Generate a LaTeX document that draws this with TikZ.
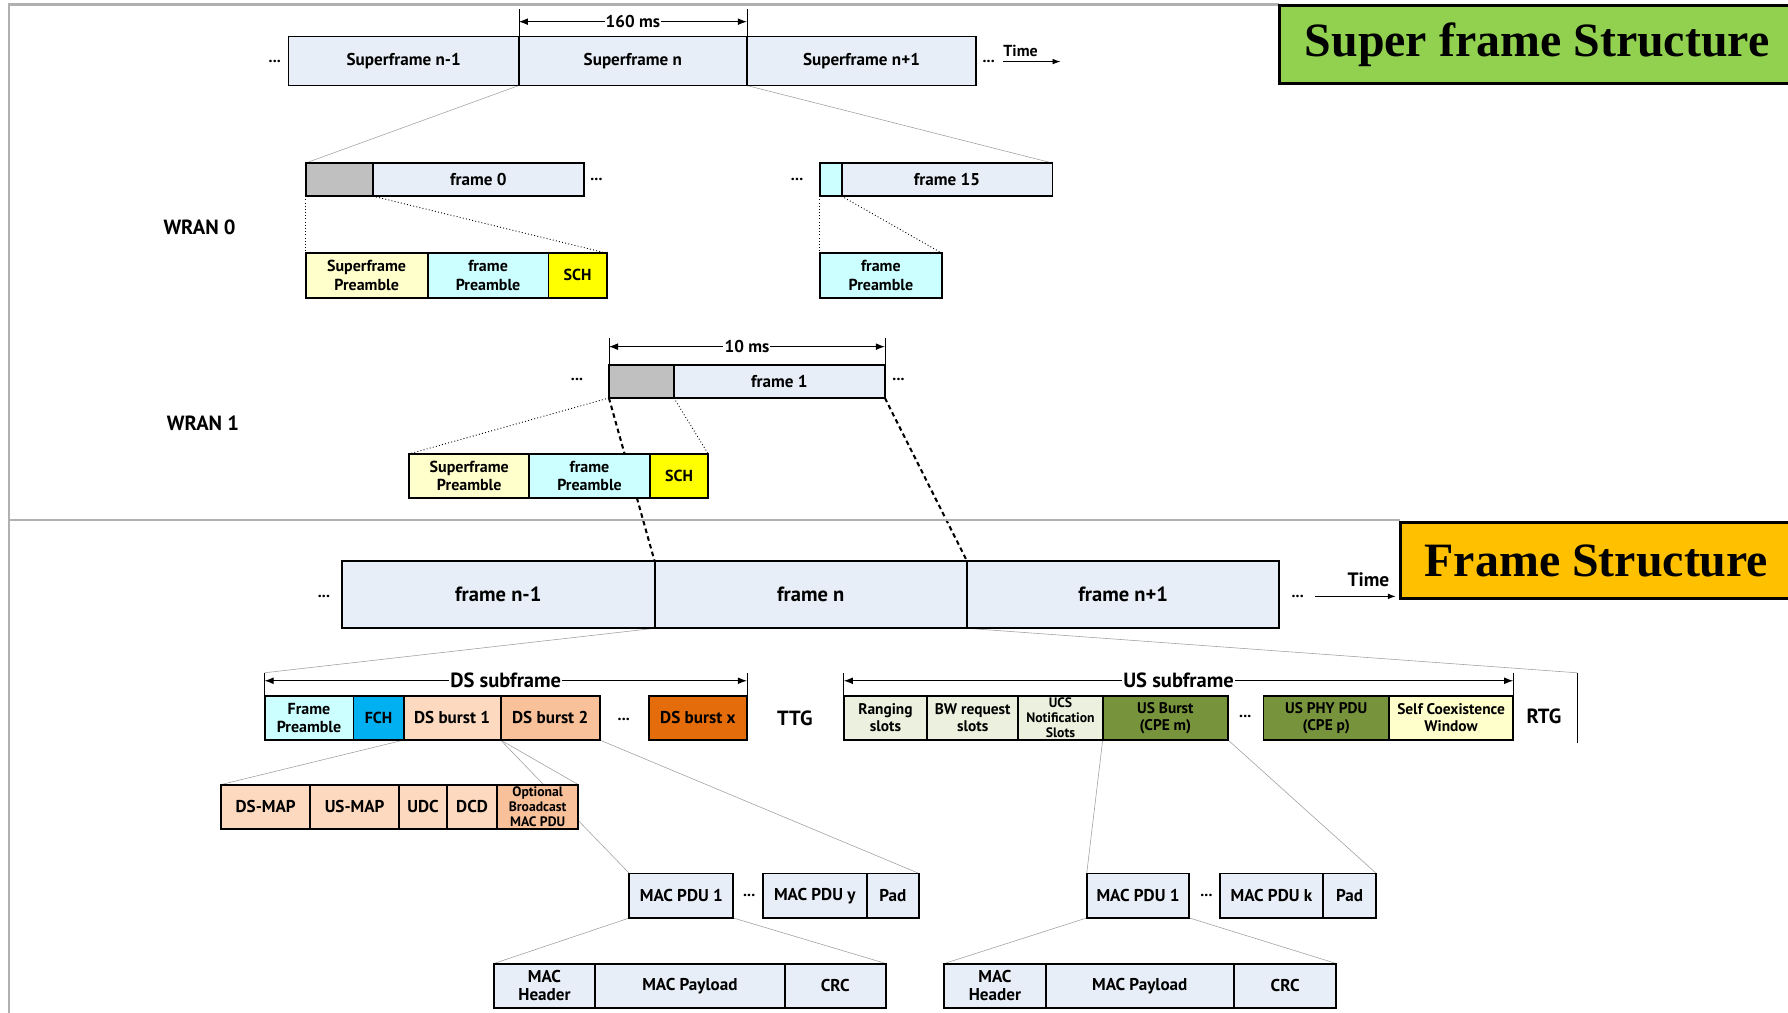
\documentclass[tikz,border=0pt]{standalone}
\usepackage{fontspec}
\setmainfont{PT Sans}
\newfontfamily\titlefont{Liberation Serif}
\usetikzlibrary{positioning,arrows.meta,backgrounds}
\definecolor{boxblue}{HTML}{E8EEF7}
\definecolor{cellgray}{HTML}{C0C0C0}
\definecolor{paleyellow}{HTML}{FFFFCC}
\definecolor{palecyan}{HTML}{CCFFFF}
\definecolor{schyellow}{HTML}{FFFF00}
\definecolor{fchblue}{HTML}{00B0F0}
\definecolor{burstone}{HTML}{FCD9BF}
\definecolor{bursttwo}{HTML}{F9C19A}
\definecolor{burstx}{HTML}{E46C0A}
\definecolor{slotgreen}{HTML}{EBF1DE}
\definecolor{olive}{HTML}{77933C}
\definecolor{titlegreen}{HTML}{92D050}
\definecolor{titleorange}{HTML}{FFC000}
\definecolor{framegray}{HTML}{B0B0B0}
\tikzset{
  cell/.style={draw, fill=boxblue, line width=1.7pt, outer sep=0pt, inner sep=0pt,
    minimum height=39pt, align=center, font=\bfseries\fontsize{14}{16}\selectfont},
  small/.style={font=\bfseries\fontsize{13.5}{15}\selectfont},
  tiny/.style={font=\bfseries\fontsize{12}{13}\selectfont},
  mid/.style={font=\bfseries\fontsize{15}{16}\selectfont},
  big/.style={font=\bfseries\fontsize{18}{18}\selectfont},
  zoomline/.style={gray!75, line width=0.5pt},
  dotline/.style={dotted, line width=0.8pt},
  bigdash/.style={line width=1.8pt, dash pattern=on 4pt off 3pt},
  dim/.style={{Latex[length=8pt,width=6pt]}-{Latex[length=8pt,width=6pt]}, line width=0.8pt},
  dimlbl/.style={fill=white, inner sep=1pt},
  dots/.style={font=\bfseries\fontsize{14}{14}\selectfont, inner sep=1pt},
  title/.style={draw, line width=2.5pt, outer sep=0pt, anchor=north west,
    font=\titlefont\bfseries\fontsize{42}{42}\selectfont},
}
\begin{document}
\begin{tikzpicture}[x=1pt,y=-1pt]
\useasboundingbox (0,0) rectangle (1568,888);
% outer frame
\draw[framegray, line width=2pt] (8,888) -- (8,4) -- (1122,4);
\draw[framegray, line width=2pt] (8,456) -- (1228,456);

% titles
\node[title, fill=titlegreen, minimum width=452pt, minimum height=68pt] (sftitle) at (1122,5) {Super frame Structure};
\node[title, fill=titleorange, minimum width=344pt, minimum height=67pt] (ftitle) at (1228,458) {Frame Structure};

% superframes
\node[cell, mid, minimum width=202pt, minimum height=43pt, anchor=north west] (sfa) at (253,32) {Superframe n-1};
\node[cell, mid, minimum width=200pt, minimum height=43pt, right=0pt of sfa] (sfb) {Superframe n};
\node[cell, mid, minimum width=201pt, minimum height=43pt, right=0pt of sfb] (sfc) {Superframe n+1};
\node[dots] (sfdl) at (241,54) {...};
\node[dots] (sfdr) at (867,54) {...};
\node[font=\bfseries\fontsize{14}{14}\selectfont] (sftime) at (895,45) {Time};
\coordinate (sftimea) at (880,54);
\coordinate (sftimeb) at (930,54);
\draw[-{Latex[length=7pt,width=5pt]}, line width=0.8pt] (sftimea) -- (sftimeb);
\draw[line width=0.6pt] (sfb.north west) -- ([yshift=24pt]sfb.north west);
\draw[line width=0.6pt] (sfb.north east) -- ([yshift=24pt]sfb.north east);
\draw[dim] ([yshift=13pt]sfb.north west) -- node[dimlbl, mid]{160 ms} ([yshift=13pt]sfb.north east);

% WRAN 0
\node[big] (wran0) at (175,199) {WRAN 0};
\node[cell, fill=cellgray, minimum width=59pt, minimum height=29pt, anchor=north west] (g0) at (268,143) {};
\node[cell, mid, minimum width=185pt, minimum height=29pt, right=0pt of g0] (f0) {frame 0};
\node[dots] (f0d) at (523,157) {...};
\node[dots] (f15d) at (699,157) {...};
\node[cell, fill=palecyan, minimum width=19pt, minimum height=29pt, anchor=north west] (c15) at (719,143) {};
\node[cell, mid, minimum width=185pt, minimum height=29pt, right=0pt of c15] (f15) {frame 15};
\node[cell, fill=paleyellow, minimum width=107pt, anchor=north west] (sp0) at (268,222) {Superframe\\Preamble};
\node[cell, fill=palecyan, minimum width=106pt, right=0pt of sp0] (fp0) {frame\\Preamble};
\node[cell, fill=schyellow, minimum width=51pt, right=0pt of fp0] (sch0) {SCH};
\node[cell, fill=palecyan, minimum width=107pt, anchor=north west] (fp15) at (719,222) {frame\\Preamble};

% WRAN 1
\node[big] (wran1) at (178,371) {WRAN 1};
\node[cell, fill=cellgray, minimum width=57pt, minimum height=29pt, anchor=north west] (g1) at (534,320) {};
\node[cell, mid, minimum width=185pt, minimum height=29pt, right=0pt of g1] (f1) {frame 1};
\node[dots] (f1dl) at (506,333) {...};
\node[dots] (f1dr) at (788,333) {...};
\draw[line width=0.6pt] (g1.north west) -- ([yshift=24pt]g1.north west);
\draw[line width=0.6pt] (f1.north east) -- ([yshift=24pt]f1.north east);
\draw[dim] ([yshift=16pt]g1.north west) -- node[dimlbl, mid]{10 ms} ([yshift=16pt]f1.north east);
\node[cell, fill=paleyellow, minimum width=105pt, anchor=north west] (sp1) at (359,398) {Superframe\\Preamble};
\node[cell, fill=palecyan, minimum width=106pt, right=0pt of sp1] (fp1) {frame\\Preamble};
\node[cell, fill=schyellow, minimum width=51pt, right=0pt of fp1] (sch1) {SCH};

% frames
\node[cell, big, minimum width=274pt, minimum height=59pt, anchor=north west] (fa) at (300,492) {frame n-1};
\node[cell, big, minimum width=274pt, minimum height=59pt, right=0pt of fa] (fb) {frame n};
\node[cell, big, minimum width=274pt, minimum height=59pt, right=0pt of fb] (fc) {frame n+1};
\node[dots] (fdl) at (284,523) {...};
\node[dots] (fdr) at (1138,523) {...};
\node[font=\bfseries\fontsize{17}{17}\selectfont] (ftime) at (1200,508) {Time};
\coordinate (ftimea) at (1153,523);
\coordinate (ftimeb) at (1224,523);
\draw[-{Latex[length=7pt,width=5pt]}, line width=0.8pt] (ftimea) -- (ftimeb);

% DS subframe
\node[cell, fill=palecyan, minimum width=78pt, anchor=north west] (dpre) at (232,610) {Frame\\Preamble};
\node[cell, fill=fchblue, minimum width=44pt, right=0pt of dpre] (fch) {FCH};
\node[cell, mid, fill=burstone, minimum width=85pt, right=0pt of fch] (db1) {DS burst 1};
\node[cell, mid, fill=bursttwo, minimum width=87pt, right=0pt of db1] (db2) {DS burst 2};
\node[dots] (dsd) at (547,631) {...};
\node[cell, mid, fill=burstx, minimum width=86pt, anchor=north west] (dbx) at (569,610) {DS burst x};
\node[big] (ttg) at (697,630) {TTG};
\coordinate (dstick) at ([yshift=20pt]dpre.north west);
\draw[line width=0.6pt] (dpre.north west) -- (dstick);
\draw[line width=0.6pt] (dbx.north east) -- ([yshift=20pt]dbx.north east);
\draw[dim] ([yshift=13pt]dpre.north west) -- node[dimlbl, big]{DS subframe} ([yshift=13pt]dbx.north east);

% US subframe
\node[cell, small, fill=slotgreen, minimum width=73pt, anchor=north west] (rng) at (740,610) {Ranging\\slots};
\node[cell, small, fill=slotgreen, minimum width=80pt, right=0pt of rng] (bwr) {BW request\\slots};
\node[cell, tiny, fill=slotgreen, minimum width=74pt, right=0pt of bwr] (ucs) {UCS\\Notification\\Slots};
\node[cell, small, fill=olive, minimum width=110pt, right=0pt of ucs] (usb) {US Burst\\(CPE m)};
\node[dots] (usd) at (1092,628) {...};
\node[cell, small, fill=olive, minimum width=110pt, anchor=north west] (phy) at (1108,610) {US PHY PDU\\(CPE p)};
\node[cell, small, fill=paleyellow, minimum width=109pt, right=0pt of phy] (scw) {Self Coexistence\\Window};
\node[big] (rtg) at (1354,628) {RTG};
\coordinate (rtgtop) at (1383,590);
\coordinate (rtgbot) at (1383,652);
\draw[line width=0.6pt] (rtgtop) -- (rtgbot);
\draw[line width=0.6pt] (rng.north west) -- ([yshift=20pt]rng.north west);
\draw[line width=0.6pt] (scw.north east) -- ([yshift=20pt]scw.north east);
\draw[dim] ([yshift=13pt]rng.north west) -- node[dimlbl, big]{US subframe} ([yshift=13pt]scw.north east);

% DS burst 1 content
\node[cell, mid, fill=burstone, minimum width=78pt, anchor=north west] (dsmap) at (194,688) {DS-MAP};
\node[cell, mid, fill=burstone, minimum width=78pt, right=0pt of dsmap] (usmap) {US-MAP};
\node[cell, mid, fill=burstone, minimum width=42pt, right=0pt of usmap] (udc) {UDC};
\node[cell, mid, fill=burstone, minimum width=44pt, right=0pt of udc] (dcd) {DCD};
\node[cell, tiny, fill=bursttwo, minimum width=71pt, right=0pt of dcd] (opt) {Optional\\Broadcast\\MAC PDU};

% MAC PDUs (DS)
\node[cell, mid, minimum width=91pt, anchor=north west] (mp1) at (552,766) {MAC PDU 1};
\node[dots] (mpd) at (657,785) {...};
\node[cell, mid, minimum width=91pt, anchor=north west] (mpy) at (669,766) {MAC PDU y};
\node[cell, mid, minimum width=46pt, right=0pt of mpy] (pad) {Pad};
\node[cell, mid, minimum width=89pt, anchor=north west] (mh) at (433,845) {MAC\\Header};
\node[cell, mid, minimum width=166pt, right=0pt of mh] (mpl) {MAC Payload};
\node[cell, mid, minimum width=89pt, right=0pt of mpl] (crc) {CRC};

% MAC PDUs (US)
\node[cell, mid, minimum width=90pt, anchor=north west] (mq1) at (953,766) {MAC PDU 1};
\node[dots] (mqd) at (1058,785) {...};
\node[cell, mid, minimum width=90pt, anchor=north west] (mqk) at (1070,766) {MAC PDU k};
\node[cell, mid, minimum width=47pt, right=0pt of mqk] (padk) {Pad};
\node[cell, mid, minimum width=89pt, anchor=north west] (mhu) at (828,845) {MAC\\Header};
\node[cell, mid, minimum width=165pt, right=0pt of mhu] (mplu) {MAC Payload};
\node[cell, mid, minimum width=90pt, right=0pt of mplu] (crcu) {CRC};

% zoom lines
\begin{scope}[on background layer]
\draw[zoomline] (sfb.south west) -- (g0.north west);
\draw[zoomline] (sfb.south east) -- (f15.north east);
\draw[dotline] (g0.south west) -- (sp0.north west);
\draw[dotline] (g0.south east) -- (sch0.north east);
\draw[dotline] (c15.south west) -- (fp15.north west);
\draw[dotline] (c15.south east) -- (fp15.north east);
\draw[dotline] (g1.south west) -- (sp1.north west);
\draw[dotline] (g1.south east) -- (sch1.north east);
\draw[bigdash] (g1.south west) -- (fb.north west);
\draw[bigdash] (f1.south east) -- (fb.north east);
\draw[zoomline] (fb.south west) -- (dstick);
\draw[zoomline] (fb.south east) -- (rtgtop);
\draw[zoomline] (db1.south west) -- (dsmap.north west);
\draw[zoomline] (db1.south east) -- (opt.north east);
\draw[zoomline] (db2.south west) -- (mp1.north west);
\draw[zoomline] (db2.south east) -- (pad.north east);
\draw[zoomline] (mp1.south west) -- (mh.north west);
\draw[zoomline] (mp1.south east) -- (crc.north east);
\draw[zoomline] (usb.south west) -- (mq1.north west);
\draw[zoomline] (usb.south east) -- (padk.north east);
\draw[zoomline] (mq1.south west) -- (mhu.north west);
\draw[zoomline] (mq1.south east) -- (crcu.north east);
\end{scope}
\end{tikzpicture}
\end{document}
